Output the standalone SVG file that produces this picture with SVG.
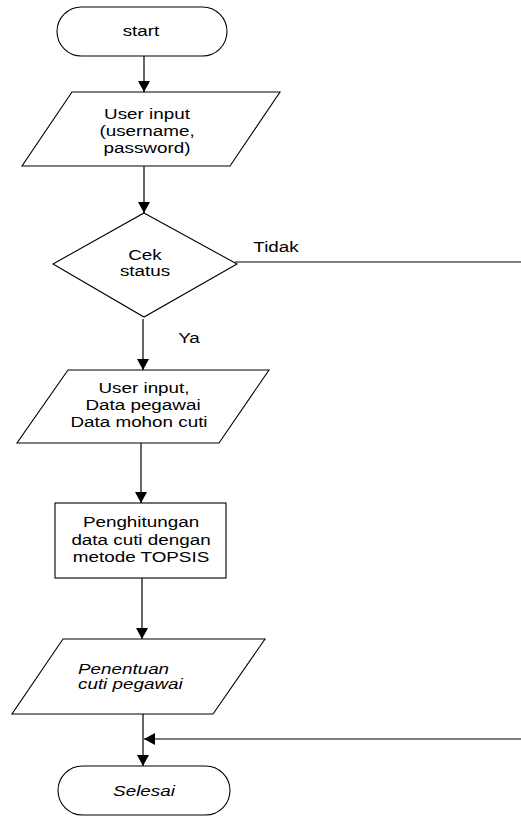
<svg xmlns="http://www.w3.org/2000/svg" width="521" height="817" viewBox="0 0 521 817">
<style>
.shape{fill:#fff;stroke:#000;stroke-width:1.1}
.conn{fill:none;stroke:#000;stroke-width:1.2}
.t{font-family:"Liberation Sans",Arial,sans-serif;font-size:14.5px;fill:#000;text-anchor:middle}
.i{font-style:italic}
.l{text-anchor:start}
</style>
<defs>
<marker id="arr" markerUnits="userSpaceOnUse" markerWidth="12" markerHeight="12" refX="11" refY="6" orient="auto">
<path d="M0,0 L11,6 L0,12 Z" fill="#000"/>
</marker>
</defs>
<rect width="521" height="817" fill="#fff"/>
<g id="connectors">
<line class="conn" x1="144" y1="56" x2="144" y2="92" marker-end="url(#arr)"/>
<line class="conn" x1="144" y1="166" x2="144" y2="213" marker-end="url(#arr)"/>
<line class="conn" x1="143" y1="319" x2="143" y2="370" marker-end="url(#arr)"/>
<line class="conn" x1="235" y1="262" x2="521" y2="262"/>
<line class="conn" x1="141" y1="443" x2="141" y2="503" marker-end="url(#arr)"/>
<line class="conn" x1="142" y1="578" x2="142" y2="639" marker-end="url(#arr)"/>
<line class="conn" x1="143" y1="714" x2="143" y2="766" marker-end="url(#arr)"/>
<line class="conn" x1="521" y1="739" x2="144" y2="739" marker-end="url(#arr)"/>
<text class="t" transform="translate(276,252) scale(1.3,1)">Tidak</text>
<text class="t" transform="translate(189,343) scale(1.3,1)">Ya</text>
</g>
<g id="start">
<rect class="shape" x="57" y="7" width="170" height="49" rx="24.5"/>
<text class="t" transform="translate(141,36) scale(1.3,1)">start</text>
</g>
<g id="input-login">
<polygon class="shape" points="72,92 280,92 230,166 22,166"/>
<text class="t" transform="translate(147,119) scale(1.3,1)">User input</text>
<text class="t" transform="translate(147,136) scale(1.3,1)">(username,</text>
<text class="t" transform="translate(147,153) scale(1.3,1)">password)</text>
</g>
<g id="cek-status">
<polygon class="shape" points="144,213 237,264 144,317 53,264"/>
<text class="t" transform="translate(145,260) scale(1.3,1)">Cek</text>
<text class="t" transform="translate(145,276) scale(1.3,1)">status</text>
</g>
<g id="input-data">
<polygon class="shape" points="68,370 269,370 219,443 17,443"/>
<text class="t" transform="translate(144,393) scale(1.3,1)">User input,</text>
<text class="t" transform="translate(143,410) scale(1.3,1)">Data pegawai</text>
<text class="t" transform="translate(139,427) scale(1.3,1)">Data mohon cuti</text>
</g>
<g id="topsis">
<rect class="shape" x="55" y="503" width="171" height="75"/>
<text class="t" transform="translate(141,527) scale(1.3,1)">Penghitungan</text>
<text class="t" transform="translate(141,545) scale(1.3,1)">data cuti dengan</text>
<text class="t" transform="translate(141,562) scale(1.3,1)">metode TOPSIS</text>
</g>
<g id="penentuan">
<polygon class="shape" points="63,639 265,639 213,714 12,714"/>
<text class="t i l" transform="translate(78,674) scale(1.3,1)">Penentuan</text>
<text class="t i l" transform="translate(78,689) scale(1.3,1)">cuti pegawai</text>
</g>
<g id="selesai">
<rect class="shape" x="58" y="766" width="172" height="49" rx="24.5"/>
<text class="t i" transform="translate(144,796) scale(1.3,1)">Selesai</text>
</g>
</svg>
